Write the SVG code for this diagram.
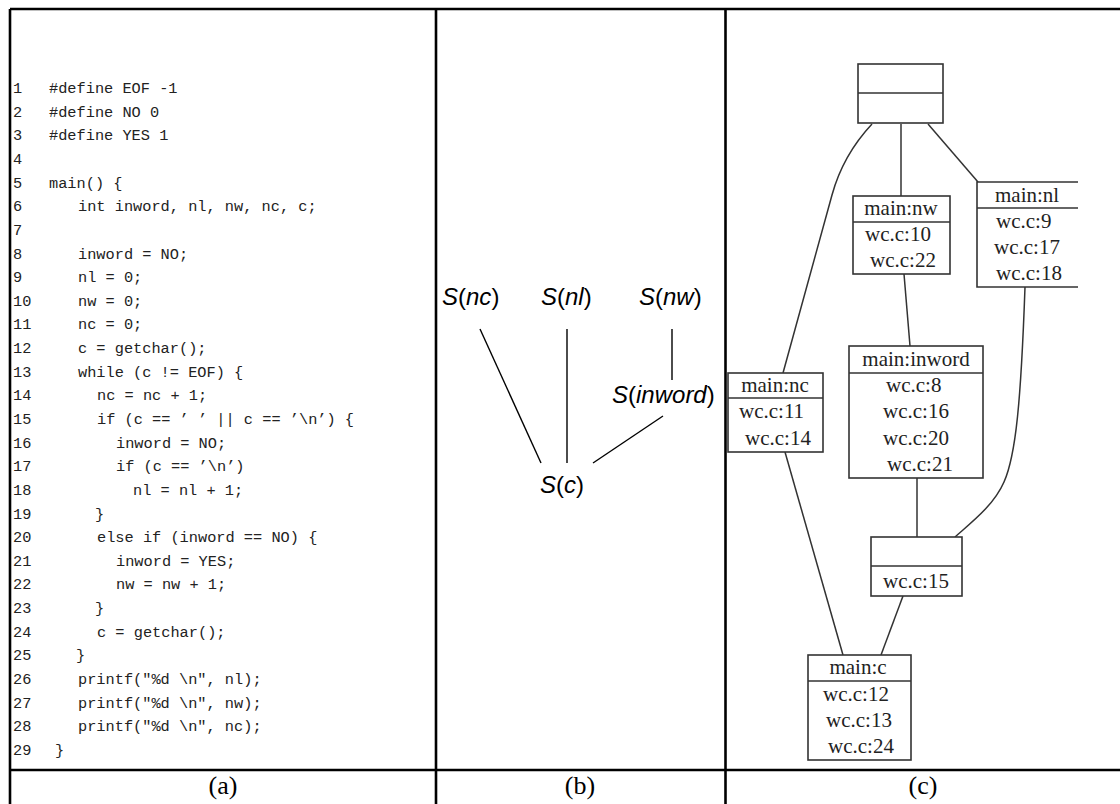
<svg xmlns="http://www.w3.org/2000/svg" width="1120" height="804" viewBox="0 0 1120 804">
<style>
.frame{stroke:#000;stroke-width:2.6;fill:none}
.code{font-family:"Liberation Mono",monospace;font-size:15.3px;fill:#222;white-space:pre}
.cap{font-family:"Liberation Serif",serif;font-size:26px;fill:#000;text-anchor:middle}
.sv{font-family:"Liberation Sans",Arial,sans-serif;font-size:24px;fill:#000}
.it{font-style:italic}
.edge{stroke:#000;stroke-width:1.4;fill:none}
.box{stroke:#333;stroke-width:1.6;fill:#fff}
.bl{stroke:#333;stroke-width:1.6;fill:none}
.ge{stroke:#333;stroke-width:1.5;fill:none}
.lbl{font-family:"Liberation Serif",serif;font-size:21px;fill:#222}
.mid{text-anchor:middle}
</style>
<rect width="1120" height="804" fill="#fff"/>
<g id="frame">
<line class="frame" x1="10" y1="9" x2="1120" y2="9"/>
<line class="frame" x1="10" y1="9" x2="10" y2="804"/>
<line class="frame" x1="436" y1="9" x2="436" y2="804"/>
<line class="frame" x1="725.5" y1="9" x2="725.5" y2="804"/>
<line class="frame" x1="10" y1="770" x2="1120" y2="770"/>
</g>
<g id="captions">
<text class="cap" x="223" y="794">(a)</text>
<text class="cap" x="580" y="794">(b)</text>
<text class="cap" x="923" y="794">(c)</text>
</g>
<g id="code" class="code" xml:space="preserve">
<text x="13" y="93">1</text><text x="49" y="93">#define EOF -1</text>
<text x="13" y="116.6">2</text><text x="49" y="116.6">#define NO 0</text>
<text x="13" y="140.3">3</text><text x="49" y="140.3">#define YES 1</text>
<text x="13" y="163.9">4</text>
<text x="13" y="187.6">5</text><text x="49" y="187.6">main() {</text>
<text x="13" y="211.2">6</text><text x="78" y="211.2">int inword, nl, nw, nc, c;</text>
<text x="13" y="234.8">7</text>
<text x="13" y="258.5">8</text><text x="78" y="258.5">inword = NO;</text>
<text x="13" y="282.1">9</text><text x="78" y="282.1">nl = 0;</text>
<text x="13" y="305.8">10</text><text x="78" y="305.8">nw = 0;</text>
<text x="13" y="329.4">11</text><text x="78" y="329.4">nc = 0;</text>
<text x="13" y="353">12</text><text x="78" y="353">c = getchar();</text>
<text x="13" y="376.7">13</text><text x="78" y="376.7">while (c != EOF) {</text>
<text x="13" y="400.3">14</text><text x="97" y="400.3">nc = nc + 1;</text>
<text x="13" y="424">15</text><text x="97" y="424">if (c == ’ ’ || c == ’\n’) {</text>
<text x="13" y="447.6">16</text><text x="116" y="447.6">inword = NO;</text>
<text x="13" y="471.2">17</text><text x="116" y="471.2">if (c == ’\n’)</text>
<text x="13" y="494.9">18</text><text x="133" y="494.9">nl = nl + 1;</text>
<text x="13" y="518.5">19</text><text x="95" y="518.5">}</text>
<text x="13" y="542.2">20</text><text x="97" y="542.2">else if (inword == NO) {</text>
<text x="13" y="565.8">21</text><text x="116" y="565.8">inword = YES;</text>
<text x="13" y="589.4">22</text><text x="116" y="589.4">nw = nw + 1;</text>
<text x="13" y="613.1">23</text><text x="95" y="613.1">}</text>
<text x="13" y="636.7">24</text><text x="97" y="636.7">c = getchar();</text>
<text x="13" y="660.4">25</text><text x="76" y="660.4">}</text>
<text x="13" y="684">26</text><text x="78" y="684">printf("%d \n", nl);</text>
<text x="13" y="707.6">27</text><text x="78" y="707.6">printf("%d \n", nw);</text>
<text x="13" y="731.3">28</text><text x="78" y="731.3">printf("%d \n", nc);</text>
<text x="13" y="754.9">29</text><text x="55" y="754.9">}</text>
</g>
<g id="b-connectors">
<line class="edge" x1="480" y1="329" x2="541" y2="463"/>
<line class="edge" x1="567" y1="329" x2="567" y2="463"/>
<line class="edge" x1="672" y1="329" x2="672" y2="380"/>
<line class="edge" x1="663" y1="416" x2="593" y2="463"/>
</g>
<g id="S_nc"><text class="sv" x="442" y="305"><tspan class="it">S</tspan>(<tspan class="it">nc</tspan>)</text></g>
<g id="S_nl"><text class="sv" x="541" y="305"><tspan class="it">S</tspan>(<tspan class="it">nl</tspan>)</text></g>
<g id="S_nw"><text class="sv" x="639" y="305"><tspan class="it">S</tspan>(<tspan class="it">nw</tspan>)</text></g>
<g id="S_inword"><text class="sv" x="612" y="403"><tspan class="it">S</tspan>(<tspan class="it">inword</tspan>)</text></g>
<g id="S_c"><text class="sv" x="540" y="493"><tspan class="it">S</tspan>(<tspan class="it">c</tspan>)</text></g>
<g id="c-connectors">
<path class="ge" d="M872,124 Q843,155 832,195 L783,373"/>
<line class="ge" x1="901" y1="124" x2="901" y2="196"/>
<line class="ge" x1="928" y1="124" x2="978" y2="182"/>
<line class="ge" x1="904" y1="274" x2="910" y2="346"/>
<path class="ge" d="M1025,287 C1021,400 1016,455 1004,482 C994,505 972,522 955,537"/>
<line class="ge" x1="917" y1="478" x2="917" y2="537"/>
<line class="ge" x1="785" y1="452" x2="843" y2="655"/>
<line class="ge" x1="903" y1="596" x2="881" y2="655"/>
</g>
<g id="root">
<rect class="box" x="858" y="64" width="85" height="59"/>
<line class="bl" x1="858" y1="93" x2="943" y2="93"/>
</g>
<g id="main_nw">
<rect class="box" x="853" y="196" width="97" height="78"/>
<line class="bl" x1="853" y1="222" x2="950" y2="222"/>
<text class="lbl mid" x="901" y="215">main:nw</text>
<text class="lbl" x="865" y="241">wc.c:10</text>
<text class="lbl" x="870" y="267">wc.c:22</text>
</g>
<g id="main_nl">
<path class="box" d="M1078,182 L977,182 L977,287 L1078,287"/>
<line class="bl" x1="977" y1="208" x2="1078" y2="208"/>
<text class="lbl" x="995" y="202">main:nl</text>
<text class="lbl" x="996" y="228">wc.c:9</text>
<text class="lbl" x="994" y="254">wc.c:17</text>
<text class="lbl" x="996" y="280">wc.c:18</text>
</g>
<g id="main_inword">
<rect class="box" x="849" y="346" width="134" height="132"/>
<line class="bl" x1="849" y1="373" x2="983" y2="373"/>
<text class="lbl mid" x="916" y="366">main:inword</text>
<text class="lbl" x="886" y="392">wc.c:8</text>
<text class="lbl" x="883" y="418">wc.c:16</text>
<text class="lbl" x="883" y="445">wc.c:20</text>
<text class="lbl" x="887" y="471">wc.c:21</text>
</g>
<g id="main_nc">
<rect class="box" x="728" y="373" width="95" height="79"/>
<line class="bl" x1="728" y1="398" x2="823" y2="398"/>
<text class="lbl mid" x="775" y="392">main:nc</text>
<text class="lbl" x="739" y="418">wc.c:11</text>
<text class="lbl" x="745" y="445">wc.c:14</text>
</g>
<g id="wc15">
<rect class="box" x="871" y="537" width="91" height="59"/>
<line class="bl" x1="871" y1="566" x2="962" y2="566"/>
<text class="lbl" x="883" y="588">wc.c:15</text>
</g>
<g id="main_c">
<rect class="box" x="808" y="655" width="103" height="105"/>
<line class="bl" x1="808" y1="681" x2="911" y2="681"/>
<text class="lbl mid" x="858" y="674">main:c</text>
<text class="lbl" x="823" y="701">wc.c:12</text>
<text class="lbl" x="826" y="727">wc.c:13</text>
<text class="lbl" x="828" y="753">wc.c:24</text>
</g>
</svg>
